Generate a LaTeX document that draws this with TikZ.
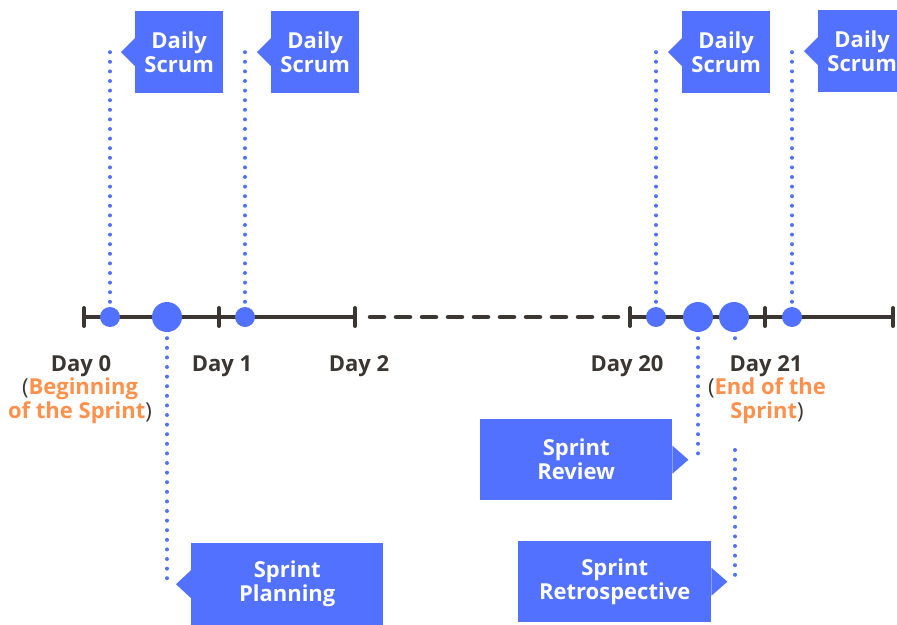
\documentclass[tikz,border=0pt]{standalone}
\usepackage{fontspec}
\setmainfont{Open Sans}
\definecolor{scrumblue}{HTML}{5271FF}
\definecolor{accent}{HTML}{FF914D}
\definecolor{axis}{HTML}{3B3632}
\begin{document}
\begin{tikzpicture}[x=1pt,y=-1pt,
  box/.style={fill=scrumblue,text=white,inner sep=0pt,align=center,anchor=north west,
    font=\bfseries\fontsize{22}{24}\selectfont},
  dot/.style={circle,fill=scrumblue,inner sep=0pt,minimum size=20pt},
  bigdot/.style={circle,fill=scrumblue,inner sep=0pt,minimum size=30pt},
  dots/.style={draw=scrumblue,line width=4pt,line cap=round,dash pattern=on 0pt off 9.6pt},
  axisline/.style={draw=axis,line width=4.5pt},
  tick/.style={draw=axis,line width=4pt,line cap=round},
  daylbl/.style={text=axis,font=\bfseries\fontsize{22}{24}\selectfont,inner sep=0pt},
  sublbl/.style={text=accent,font=\bfseries\fontsize{22}{24}\selectfont,inner sep=0pt,align=center},
]
\useasboundingbox (0,0) rectangle (897,624);
\clip (0,0) rectangle (897,624);

% timeline
\coordinate (a0) at (84,317);
\coordinate (a1) at (219,317);
\coordinate (a2) at (355,317);
\coordinate (b0) at (370,317);
\coordinate (b1) at (618,317);
\coordinate (a20) at (630,317);
\coordinate (a21) at (765,317);
\coordinate (aend) at (893,317);
\draw[axisline] (a0) -- (a2);
\draw[axisline,line cap=round,dash pattern=on 14pt off 12pt] (b0) -- (b1);
\draw[axisline] (a20) -- (aend);
\foreach \t in {a0,a1,a2,a20,a21,aend}
  \draw[tick] ([yshift=9pt]\t) -- ([yshift=-9pt]\t);

% circles
\node[dot] (c1) at (110,317) {};
\node[bigdot] (cp) at (167,317) {};
\node[dot] (c2) at (245,317) {};
\node[dot] (c3) at (656,317) {};
\node[bigdot] (crv) at (698,317) {};
\node[bigdot] (crt) at (734,317) {};
\node[dot] (c4) at (792,317) {};

% daily scrum boxes
\node[box,minimum width=88pt,minimum height=82pt] (ds1) at (135,11) {Daily\\Scrum};
\node[box,minimum width=88pt,minimum height=82pt] (ds2) at (271,11) {Daily\\Scrum};
\node[box,minimum width=88pt,minimum height=82pt] (ds3) at (682,11) {Daily\\Scrum};
\node[box,minimum width=88pt,minimum height=82pt] (ds4) at (818,10) {Daily\\Scrum};
\foreach \b in {ds1,ds2,ds3,ds4}{
  \fill[scrumblue] ([yshift=14pt]\b.west) -- ([xshift=-14pt]\b.west) -- ([yshift=-14pt]\b.west) -- cycle;
  \coordinate (\b tip) at ([xshift=-14pt]\b.west);
}
\draw[dots] (c1.north) ++(0,-5) -- (c1 |- ds1tip);
\draw[dots] (c2.north) ++(0,-5) -- (c2 |- ds2tip);
\draw[dots] (c3.north) ++(0,-5) -- (c3 |- ds3tip);
\draw[dots] (c4.north) ++(0,-5) -- (c4 |- ds4tip);

% sprint planning
\node[box,minimum width=192pt,minimum height=82pt] (sp) at (191,543) {Sprint\\Planning};
\fill[scrumblue] ([yshift=14pt]sp.west) -- ([xshift=-15pt]sp.west) -- ([yshift=-14pt]sp.west) -- cycle;
\coordinate (sptip) at ([xshift=-15pt]sp.west);
\draw[dots] (cp.south) ++(0,6) -- (cp |- sptip);

% sprint review
\node[box,minimum width=192pt,minimum height=81pt] (sr) at (480,419) {Sprint\\Review};
\fill[scrumblue] ([yshift=14pt]sr.east) -- ([xshift=16pt]sr.east) -- ([yshift=-14pt]sr.east) -- cycle;
\coordinate (srtip) at ([xshift=16pt]sr.east);
\draw[dots] (crv.south) ++(0,6) -- (crv |- srtip);

% sprint retrospective
\node[box,minimum width=193pt,minimum height=81pt] (st) at (518,541) {Sprint\\Retrospective};
\fill[scrumblue] ([yshift=14pt]st.east) -- ([xshift=16pt]st.east) -- ([yshift=-14pt]st.east) -- cycle;
\coordinate (sttip) at ([xshift=16pt]st.east);
\fill[scrumblue] ([shift={(1pt,-6pt)}]crt.south) circle (2pt);
\coordinate (strt) at (735,450);
\draw[dots] (strt) -- (strt |- sttip);

% day labels
\node[daylbl] (d0) at (81,366) {Day 0};
\node[daylbl] (d1) at (222,366) {Day 1};
\node[daylbl] (d2) at (359,366) {Day 2};
\node[daylbl] (d20) at (627,366) {Day 20};
\node[daylbl] (d21) at (766,366) {Day 21};
\node[sublbl] (s0) at (80,401) {{\mdseries\color{axis}(}Beginning\\of the Sprint{\mdseries\color{axis})}};
\node[sublbl] (s21) at (767,401) {{\mdseries\color{axis}(}End of the\\Sprint{\mdseries\color{axis})}};
\end{tikzpicture}
\end{document}
